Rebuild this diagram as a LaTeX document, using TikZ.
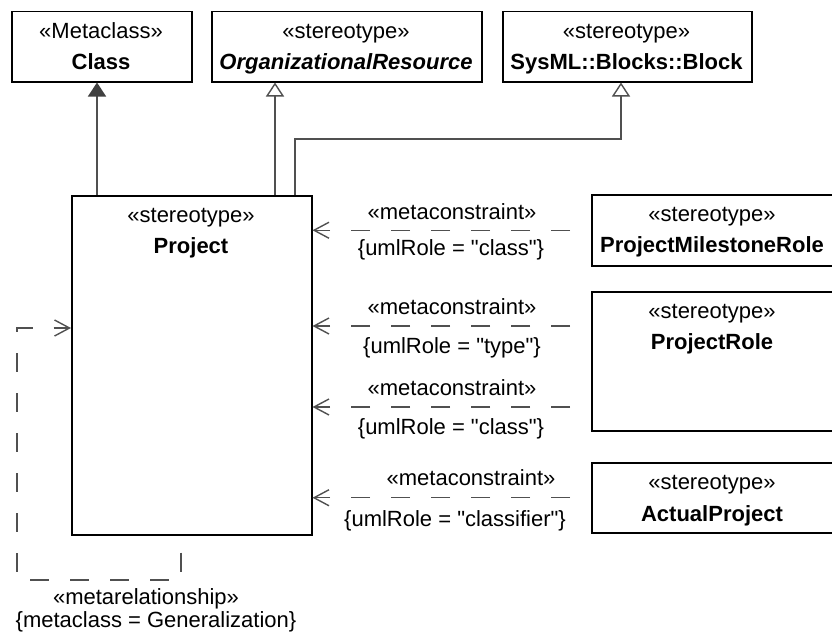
\documentclass[tikz,border=0pt]{standalone}
\usepackage{fontspec}
\setmainfont{Liberation Sans}[Ligatures=TeXOff]
\usetikzlibrary{arrows.meta,calc}
\definecolor{conn}{HTML}{505050}
\definecolor{tipfill}{HTML}{404040}
\begin{document}
\begin{tikzpicture}[x=1pt,y=-1pt,
  box/.style={draw=black,line width=1.5pt,fill=white,inner sep=0pt,anchor=north west},
  txt/.style={anchor=base,inner sep=0pt,font=\fontsize{22}{26}\selectfont},
  btxt/.style={anchor=base,inner sep=0pt,font=\fontsize{22}{26}\selectfont\bfseries},
  bitxt/.style={anchor=base,inner sep=0pt,font=\fontsize{22}{26}\selectfont\bfseries\itshape},
  gen/.style={draw=conn,line width=1.4pt,-{Triangle[open,length=14pt,width=18pt,line width=1.4pt]}},
  ext/.style={draw=conn,line width=1.4pt,-{Triangle[length=14pt,width=18pt,fill=tipfill,color=tipfill]}},
  meta/.style={draw=conn,line width=1.4pt,dash pattern=on 19pt off 21pt,dash phase=19pt,-{Straight Barb[length=15pt,width=16pt,line width=1.4pt]}},
  metaloop/.style={meta,dash phase=23pt},
]
\useasboundingbox (0,0) rectangle (832,634);

% boxes
\node[box,minimum width=180pt,minimum height=70pt] (cls) at (11,11) {};
\node[box,minimum width=270pt,minimum height=70pt] (org) at (211,11) {};
\node[box,minimum width=249pt,minimum height=70pt] (blk) at (502,11) {};
\node[box,minimum width=240pt,minimum height=339pt] (proj) at (71,195) {};
\node[box,minimum width=244pt,minimum height=71pt] (pmr) at (591,194) {};
\node[box,minimum width=244pt,minimum height=139pt] (prole) at (591,291) {};
\node[box,minimum width=244pt,minimum height=70pt] (actual) at (591,462) {};

% box texts
\node[txt] (clsS) at (101,38) {«Metaclass»};
\node[btxt] (clsN) at (101,70) {Class};
\node[txt] (orgS) at (346,38) {«stereotype»};
\node[bitxt] (orgN) at (346,70) {OrganizationalResource};
\node[txt] (blkS) at (626.5,38) {«stereotype»};
\node[btxt] (blkN) at (626.5,70) {SysML::Blocks::Block};
\node[txt] (projS) at (191,222) {«stereotype»};
\node[btxt] (projN) at (191,253) {Project};
\node[txt] (pmrS) at (712,221) {«stereotype»};
\node[btxt] (pmrN) at (712,252) {ProjectMilestoneRole};
\node[txt] (proleS) at (712,318) {«stereotype»};
\node[btxt] (proleN) at (712,349) {ProjectRole};
\node[txt] (actualS) at (712,489) {«stereotype»};
\node[btxt] (actualN) at (712,521) {ActualProject};

% generalizations / extension
\coordinate (a1) at (97,0);
\coordinate (a2) at (275,0);
\coordinate (k1) at (295,139);
\coordinate (k2) at (621,139);
\draw[ext] (proj.north -| a1) -- (cls.south -| a1);
\draw[gen] (proj.north -| a2) -- (org.south -| a2);
\draw[gen] (proj.north -| k1) -- (k1) -- (k2) -- (blk.south -| k2);

% metaconstraints
\coordinate (r2) at (0,326);
\coordinate (r3) at (0,407);
\draw[meta] (pmr.west) -- (proj.east |- pmr.west);
\draw[meta] (prole.west |- r2) -- (proj.east |- r2);
\draw[meta] (prole.west |- r3) -- (proj.east |- r3);
\draw[meta] (actual.west) -- (proj.east |- actual.west);

\node[txt] (mc1) at (452,219) {«metaconstraint»};
\node[txt] (ur1) at (451,255) {\{umlRole = "class"\}};
\node[txt] (mc2) at (452,314) {«metaconstraint»};
\node[txt] (ur2) at (452,353) {\{umlRole = "type"\}};
\node[txt] (mc3) at (452,395) {«metaconstraint»};
\node[txt] (ur3) at (451,434) {\{umlRole = "class"\}};
\node[txt] (mc4) at (471,485) {«metaconstraint»};
\node[txt] (ur4) at (455,526) {\{umlRole = "classifier"\}};

% metarelationship loop
\coordinate (l1) at (181,580);
\coordinate (l2) at (17,580);
\coordinate (l3) at (17,328);
\draw[metaloop] (proj.south -| l1) -- (l1) -- (l2) -- (l3) -- (proj.west |- l3);
\node[txt] (mr1) at (146,604) {«metarelationship»};
\node[txt] (mr2) at (156,627) {\{metaclass = Generalization\}};
\end{tikzpicture}
\end{document}
